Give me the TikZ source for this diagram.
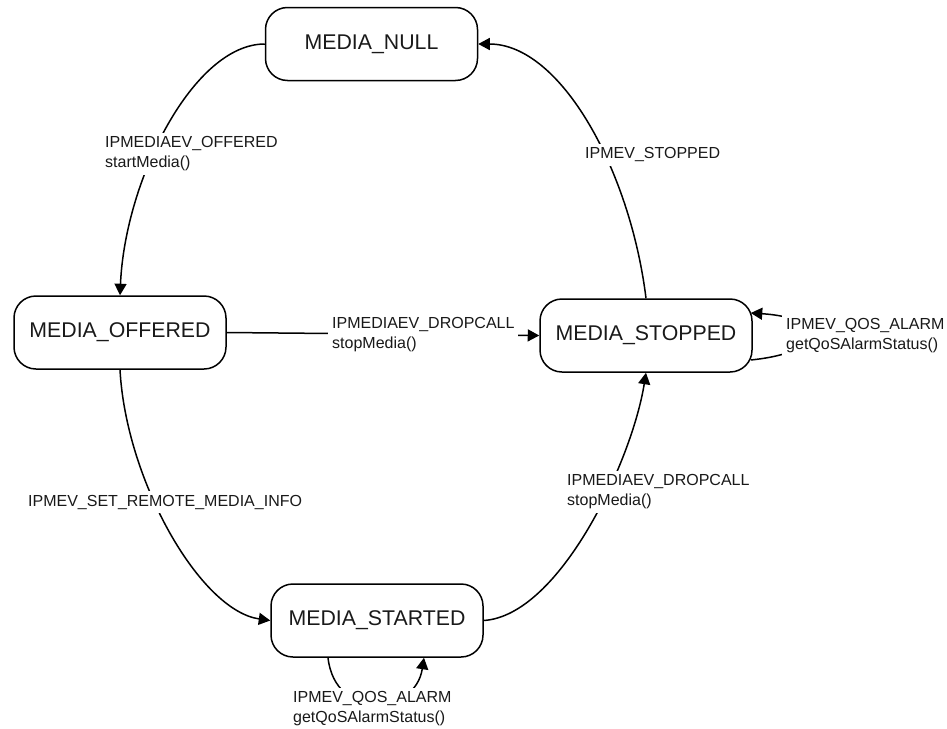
\documentclass[tikz,border=0pt]{standalone}
\usepackage{fontspec}
\setmainfont{Liberation Sans}
\usetikzlibrary{arrows.meta}
\begin{document}
\begin{tikzpicture}[x=1pt,y=-1pt,
  state/.style={draw, line width=1.5pt, rounded corners=22pt, minimum width=212pt,
    minimum height=73pt, inner sep=0pt, font=\fontsize{21.3}{25}\selectfont, text=black!90},
  lbl/.style={fill=white, inner sep=4pt, align=left, anchor=west,
    font=\fontsize{16}{20}\selectfont, text=black!90},
  conn/.style={line width=1.5pt, -{Triangle[length=11.5pt,width=12pt]}}]
\useasboundingbox (0,0) rectangle (947,728);
% states
\node[state] (null)  at (371.5,44)    {MEDIA\_NULL};
\node[state] (off)   at (120,332.5)   {MEDIA\_OFFERED};
\node[state] (stop)  at (646,335.5)   {MEDIA\_STOPPED};
\node[state] (start) at (377,620.5)   {MEDIA\_STARTED};
% transitions
\draw[conn] (null.west) .. controls +(-71,0) and +(5,-116) .. (off.north);
\draw[conn] (stop.north) .. controls +(-16,-129) and +(82,0) .. (null.east);
\draw[conn] (off.east) -- (stop.west);
\draw[conn] (off.south) .. controls +(6,111) and +(-70,-10) .. (start.west);
\draw[conn] (start.east) .. controls +(76,-5) and +(-14,88) .. (stop.south);
\draw[conn] ([xshift=-2pt,yshift=-24.5pt]stop.east) .. controls +(78,-8) and +(78,5) .. ([xshift=-2pt,yshift=22.5pt]stop.east);
\draw[conn] ([xshift=-49pt]start.south) .. controls +(7,63) and +(-9,58) .. ([xshift=47pt]start.south);
% labels
\node[lbl] (l1) at (101,154)  {IPMEDIAEV\_OFFERED\\startMedia()};
\node[lbl] (l2) at (581,155)  {IPMEV\_STOPPED};
\node[lbl] (l3) at (328,335)  {IPMEDIAEV\_DROPCALL\\stopMedia()};
\node[lbl] (l4) at (782,335.5) {IPMEV\_QOS\_ALARM\\getQoSAlarmStatus()};
\node[lbl] (l5) at (24,502)   {IPMEV\_SET\_REMOTE\_MEDIA\_INFO};
\node[lbl] (l6) at (563,492)  {IPMEDIAEV\_DROPCALL\\stopMedia()};
\node[lbl] (l7) at (289,709)  {IPMEV\_QOS\_ALARM\\getQoSAlarmStatus()};
\end{tikzpicture}
\end{document}
